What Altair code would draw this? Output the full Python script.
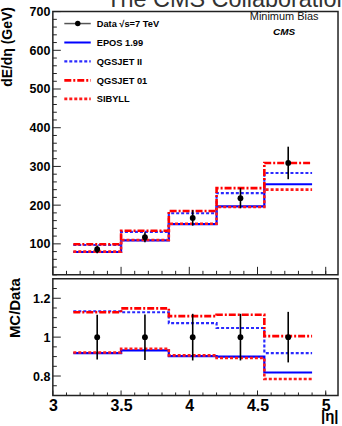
import altair as alt
import pandas as pd

FONT = "Liberation Sans"

title_text = "The CMS Collaboration"
bin_edges = [3.15, 3.5, 3.85, 4.2, 4.55, 4.9]
eta_centers = [3.325, 3.675, 4.025, 4.375, 4.725]

data_vals = [86, 117, 167, 218, 309]
data_errs = [10, 13, 20, 26, 42]
epos_vals = [79, 109, 151, 197, 254]
qgsjet2_vals = [97, 131, 179, 231, 283]
qgsjet01_vals = [99, 134, 185, 244, 309]
sibyll_vals = [80, 110, 152, 195, 240]

ratio_errs = [0.115, 0.117, 0.12, 0.12, 0.13]
epos_ratio = [0.918, 0.932, 0.902, 0.900, 0.818]
qgsjet2_ratio = [1.133, 1.128, 1.072, 1.047, 0.918]
qgsjet01_ratio = [1.128, 1.148, 1.108, 1.115, 1.005]
sibyll_ratio = [0.921, 0.940, 0.906, 0.893, 0.785]

top_y_major = [100, 200, 300, 400, 500, 600, 700]
top_y_minor = [20, 40, 60, 80, 120, 140, 160, 180, 220, 240, 260, 280, 320, 340, 360, 380,
               420, 440, 460, 480, 520, 540, 560, 580, 620, 640, 660, 680]
x_major = [3, 3.5, 4, 4.5, 5]
x_minor = [3.1, 3.2, 3.3, 3.4, 3.6, 3.7, 3.8, 3.9, 4.1, 4.2, 4.3, 4.4,
           4.6, 4.7, 4.8, 4.9, 5.0]
ratio_major = [0.8, 1.0, 1.2]
ratio_minor = [0.75, 0.85, 0.9, 0.95, 1.05, 1.1, 1.15, 1.25]

model_names = ["EPOS 1.99", "QGSJET II", "QGSJET 01", "SIBYLL"]
data_label = "Data \u221as=7 TeV"

styles = {
    "EPOS 1.99": dict(color="#0000ff", dash=[1, 0], width=2.2),
    "QGSJET II": dict(color="#2a2aff", dash=[3, 2], width=2.2),
    "QGSJET 01": dict(color="#ff0000", dash=[7, 2, 2, 2], width=2.6),
    "SIBYLL": dict(color="#ff1a1a", dash=[3, 2], width=2.6),
}

W = 286
H_TOP = 264
H_BOT = 117

xscale = alt.Scale(domain=[3, 5.09], nice=False, zero=False)
yscale_top = alt.Scale(domain=[20, 700], nice=False, zero=False)
yscale_bot = alt.Scale(domain=[0.7, 1.3], nice=False, zero=False)

top_axis = alt.Axis(values=top_y_major, format="d", ticks=False, domain=False, grid=False,
                    labelFont=FONT, labelFontSize=12.5, labelFontWeight="bold",
                    labelColor="black", labelPadding=3,
                    title="dE/d\u03b7 (GeV)", titleFont=FONT, titleFontSize=14,
                    titleFontWeight="bold", titleColor="black", titleAngle=-90,
                    titleAlign="right", titleBaseline="middle", titleX=-45, titleY=-5)
bot_axis = alt.Axis(values=ratio_major, format="~g", ticks=False, domain=False, grid=False,
                    labelFont=FONT, labelFontSize=12.5, labelFontWeight="bold",
                    labelColor="black", labelPadding=3,
                    title="MC/Data", titleFont=FONT, titleFontSize=15,
                    titleFontWeight="bold", titleColor="black", titleAngle=-90,
                    titleAlign="right", titleBaseline="middle", titleX=-38.5, titleY=-1)
bot_xaxis = alt.Axis(values=x_major, format="~g", ticks=False, domain=False, grid=False,
                     labelFont=FONT, labelFontSize=16, labelFontWeight="bold",
                     labelColor="black", labelPadding=2, labelFlush=False,
                     title="|\u03b7|", titleFont=FONT, titleFontSize=15,
                     titleFontWeight="bold", titleColor="black", titleAlign="right",
                     titleAnchor="end", titleBaseline="top", titleX=W, titleY=13.5)


def step_df(vals):
    return pd.DataFrame({"eta": bin_edges, "v": list(vals) + [vals[-1]]})


def hist_layers(series, xax, yscale, yax):
    layers = []
    for name in model_names:
        st = styles[name]
        layers.append(
            alt.Chart(step_df(series[name]))
            .mark_line(interpolate="step-after", color=st["color"],
                       strokeDash=st["dash"], strokeWidth=st["width"])
            .encode(x=alt.X("eta:Q", scale=xscale, axis=xax),
                    y=alt.Y("v:Q", scale=yscale, axis=yax))
        )
    return layers


def ytick_layers(major, minor, yscale, yax, maj_len, min_len):
    out = []
    for vals, ln in ((major, maj_len), (minor, min_len)):
        out.append(
            alt.Chart(pd.DataFrame({"v": vals}))
            .mark_rule(color="#222", strokeWidth=1)
            .encode(y=alt.Y("v:Q", scale=yscale, axis=yax),
                    x=alt.value(0), x2=alt.value(ln))
        )
    return out


def xtick_layers(xax, height, maj_len, min_len):
    out = []
    for vals, ln in ((x_major, maj_len), (x_minor, min_len)):
        out.append(
            alt.Chart(pd.DataFrame({"eta": vals}))
            .mark_rule(color="#222", strokeWidth=1)
            .encode(x=alt.X("eta:Q", scale=xscale, axis=xax),
                    y=alt.value(height), y2=alt.value(height - ln))
        )
    return out


def data_layers(df, xax, yscale, yax):
    err = alt.Chart(df).mark_rule(color="black", strokeWidth=1.6).encode(
        x=alt.X("eta:Q", scale=xscale, axis=xax),
        y=alt.Y("lo:Q", scale=yscale, axis=yax), y2="hi:Q")
    pts = alt.Chart(df).mark_circle(size=34, color="black", opacity=1).encode(
        x=alt.X("eta:Q", scale=xscale, axis=xax),
        y=alt.Y("v:Q", scale=yscale, axis=yax))
    return [err, pts]


# ---------------- top panel ----------------
top_series = {"EPOS 1.99": epos_vals, "QGSJET II": qgsjet2_vals,
              "QGSJET 01": qgsjet01_vals, "SIBYLL": sibyll_vals}
top_data = pd.DataFrame({"eta": eta_centers, "v": data_vals,
                         "lo": [v - e for v, e in zip(data_vals, data_errs)],
                         "hi": [v + e for v, e in zip(data_vals, data_errs)]})

legend_layers = []
leg_y = [12, 31, 50, 69, 87.5]


def lab_df(s):
    return pd.DataFrame({"label": [s]})


legend_layers.append(
    alt.Chart(lab_df(data_label)).mark_rule(color="#555", strokeWidth=1.5)
    .encode(x=alt.value(11.5), x2=alt.value(38), y=alt.value(leg_y[0])))
legend_layers.append(
    alt.Chart(lab_df(data_label)).mark_circle(size=30, color="black", opacity=1)
    .encode(x=alt.value(25), y=alt.value(leg_y[0])))
for i, name in enumerate(model_names):
    st = styles[name]
    legend_layers.append(
        alt.Chart(lab_df(name)).mark_rule(color=st["color"], strokeDash=st["dash"],
                                         strokeWidth=st["width"])
        .encode(x=alt.value(11.5), x2=alt.value(38), y=alt.value(leg_y[i + 1])))
for i, lab in enumerate([data_label] + model_names):
    legend_layers.append(
        alt.Chart(lab_df(lab)).mark_text(align="left", baseline="middle", font=FONT,
                                         fontSize=9.3, fontWeight="bold", color="black")
        .encode(x=alt.value(44), y=alt.value(leg_y[i] + 0.5), text="label:N"))

info_layers = [
    alt.Chart(lab_df("Minimum Bias")).mark_text(align="center", baseline="alphabetic",
                                                font=FONT, fontSize=11, color="#111")
    .encode(x=alt.value(232), y=alt.value(8.7), text="label:N"),
    alt.Chart(lab_df("CMS")).mark_text(align="center", baseline="alphabetic", font=FONT,
                                       fontSize=10, fontWeight="bold", fontStyle="italic",
                                       color="black")
    .encode(x=alt.value(232), y=alt.value(23), text="label:N"),
    alt.Chart(lab_df(title_text)).mark_text(align="left", baseline="alphabetic", font=FONT,
                                            fontSize=23.5, color="#333")
    .encode(x=alt.value(53.5), y=alt.value(-5), text="label:N"),
]

top = alt.layer(
    *hist_layers(top_series, None, yscale_top, top_axis),
    *data_layers(top_data, None, yscale_top, top_axis),
    *ytick_layers(top_y_major, top_y_minor, yscale_top, top_axis, 8, 4),
    *xtick_layers(None, H_TOP, 8, 4),
    *legend_layers, *info_layers,
).properties(width=W, height=H_TOP)

# ---------------- bottom panel ----------------
bot_series = {"EPOS 1.99": epos_ratio, "QGSJET II": qgsjet2_ratio,
              "QGSJET 01": qgsjet01_ratio, "SIBYLL": sibyll_ratio}
ones = [1.0] * len(eta_centers)
bot_data = pd.DataFrame({"eta": eta_centers, "v": ones,
                         "lo": [1 - e for e in ratio_errs],
                         "hi": [1 + e for e in ratio_errs]})

bottom = alt.layer(
    *hist_layers(bot_series, bot_xaxis, yscale_bot, bot_axis),
    *data_layers(bot_data, bot_xaxis, yscale_bot, bot_axis),
    *ytick_layers(ratio_major, ratio_minor, yscale_bot, bot_axis, 8, 4),
    *xtick_layers(bot_xaxis, H_BOT, 5, 3),
).properties(width=W, height=H_BOT)

chart = alt.vconcat(top, bottom, spacing=0).properties(
    padding={"left": 0, "top": -14, "right": -9, "bottom": 0},
    background="white",
).configure_view(stroke="#222", strokeWidth=1.5)

chart.save("out.html", embed_options={"renderer": "svg", "actions": False})
